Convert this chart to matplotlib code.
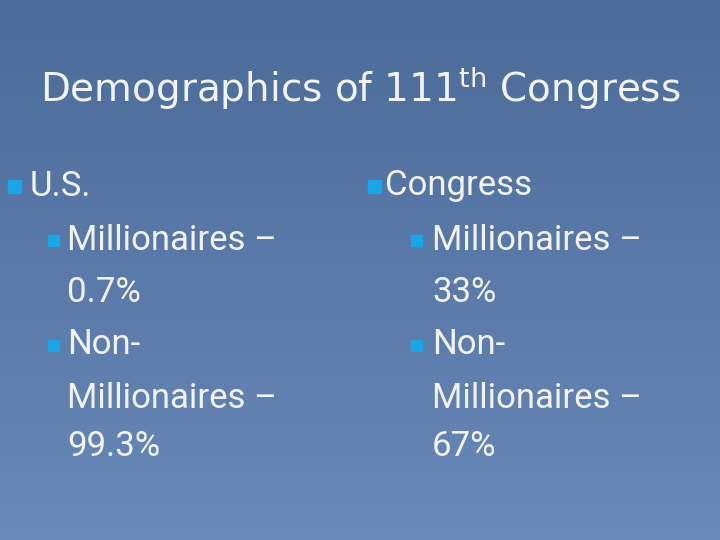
import matplotlib
matplotlib.use("Agg")
import matplotlib.pyplot as plt
import numpy as np

title = "Demographics of 111$^{\\mathrm{th}}$ Congress"
groups = ["U.S.", "Congress"]
millionaire_pct = ["0.7%", "33%"]
non_millionaire_pct = ["99.3%", "67%"]

W, H = 720, 540
fig = plt.figure(figsize=(7.2, 5.4), dpi=100)
ax = fig.add_axes([0, 0, 1, 1])
ax.set_xlim(0, W); ax.set_ylim(H, 0); ax.axis("off")
grad = np.linspace(0, 1, 256)[:, None]
top = np.array([0x4b, 0x6b, 0x98]) / 255
bot = np.array([0x68, 0x89, 0xb9]) / 255
img = top + (bot - top) * grad[..., None]
ax.imshow(np.repeat(img, 2, axis=1), extent=[0, W, H, 0], aspect="auto")

fc = "#f2f2f2"
bc = "#1aa6e6"
ax.text(360, 88, title, ha="center", va="center", fontsize=28, color=fc, family=["DejaVu Sans"])

def bullet(x, y, s):
    ax.add_patch(plt.Rectangle((x, y - s / 2), s, s, color=bc))

fam = ["Roboto", "DejaVu Sans"]
cols = [(8, 30, 48, 67), (368, 385, 411, 432)]
fs = 25
for i, (b1, t1, b2, t2) in enumerate(cols):
    bullet(b1, 186, 13)
    ax.text(t1, 186, groups[i], va="center", fontsize=fs, color=fc, family=fam)
    bullet(b2, 240, 11)
    ax.text(t2, 240, "Millionaires –", va="center", fontsize=fs, color=fc, family=fam)
    ax.text(t2, 292, millionaire_pct[i], va="center", fontsize=fs, color=fc, family=fam)
    bullet(b2, 345, 11)
    ax.text(t2, 345, "Non-", va="center", fontsize=fs, color=fc, family=fam)
    ax.text(t2, 398, "Millionaires –", va="center", fontsize=fs, color=fc, family=fam)
    ax.text(t2, 447, non_millionaire_pct[i], va="center", fontsize=fs, color=fc, family=fam)

fig.savefig("out.png", dpi=100)
